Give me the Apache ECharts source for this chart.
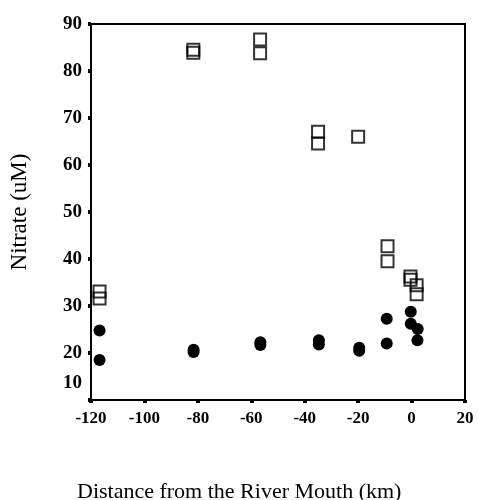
<!DOCTYPE html>
<html>
<head>
<meta charset="utf-8">
<script src="https://cdn.jsdelivr.net/npm/echarts@6/dist/echarts.min.js"></script>
<style>
  html, body { margin: 0; padding: 0; background: #fff; }
  #chart { width: 478px; height: 500px; }
</style>
</head>
<body>
<div id="chart"></div>
<script>
// Nitrate concentration versus distance from the river mouth.
// Open squares: high-nitrate samples; filled circles: low-nitrate samples.
const squareSamples = [
  [-116.8, 33.1], [-116.8, 31.6],
  [-81.7, 84.5], [-81.7, 83.9],
  [-56.7, 86.7], [-56.7, 83.8],
  [-35.0, 67.1], [-35.0, 64.6],
  [-20.0, 66.0],
  [-9.0, 42.7], [-9.0, 39.5],
  [-0.4, 36.3], [-0.4, 35.6],
  [1.9, 34.4], [1.9, 32.5]
];
const circleSamples = [
  [-116.8, 24.8], [-116.8, 18.5],
  [-81.6, 20.7], [-81.6, 20.2],
  [-56.6, 22.3], [-56.6, 21.7],
  [-34.7, 22.7], [-34.7, 21.8],
  [-19.6, 21.1], [-19.6, 20.5],
  [-9.3, 27.3], [-9.3, 22.0],
  [-0.3, 28.8], [-0.3, 26.2],
  [2.3, 25.1], [2.2, 22.7]
];
const xTicks = { min: -120, max: 20, step: 20 };
const yTicks = { min: 10, max: 90, step: 10 };
const xTitle = 'Distance from the River Mouth (km)';
const yTitle = 'Nitrate (uM)';

const serif = '"Liberation Serif", "DejaVu Serif", serif';
const chart = echarts.init(document.getElementById('chart'));

chart.setOption({
  animation: false,
  backgroundColor: '#fff',
  grid: {
    left: 91, right: 13, top: 24, bottom: 100,
    show: true, borderColor: '#000', borderWidth: 2, backgroundColor: 'transparent'
  },
  xAxis: {
    type: 'value',
    min: xTicks.min, max: xTicks.max, interval: xTicks.step,
    splitLine: { show: false },
    axisLine: { show: true, onZero: false, lineStyle: { color: '#000', width: 2 } },
    axisTick: { show: true, inside: false, length: 3, lineStyle: { color: '#000', width: 4 } },
    axisLabel: { color: '#000', fontFamily: serif, fontSize: 17, fontWeight: 'bold', margin: 10 }
  },
  yAxis: {
    type: 'value',
    min: yTicks.min, max: yTicks.max, interval: yTicks.step,
    name: yTitle,
    nameLocation: 'middle',
    nameGap: 60,
    nameTextStyle: { color: '#000', fontFamily: serif, fontSize: 23 },
    splitLine: { show: false },
    axisLine: { show: true, onZero: false, lineStyle: { color: '#000', width: 2 } },
    axisTick: { show: true, inside: false, length: 3, lineStyle: { color: '#000', width: 4 } },
    axisLabel: {
      color: '#000', fontFamily: serif, fontSize: 19, fontWeight: 'bold', margin: 9,
      formatter: v => (v === yTicks.min ? '{low|' + v + '}' : String(v)),
      rich: { low: { fontFamily: serif, fontSize: 19, fontWeight: 'bold', color: '#000', padding: [0, 0, 34, 0] } }
    }
  },
  graphic: [{
    type: 'text',
    left: 77, top: 481,
    style: { text: xTitle, fill: '#000', font: '22px ' + serif }
  }],
  series: [
    {
      type: 'scatter',
      data: squareSamples,
      symbol: 'rect',
      symbolSize: 12,
      itemStyle: { color: 'rgba(255,255,255,0)', borderColor: '#000', borderWidth: 2 }
    },
    {
      type: 'scatter',
      data: circleSamples,
      symbol: 'circle',
      symbolSize: 12,
      itemStyle: { color: '#000', opacity: 1 }
    }
  ]
});
</script>
</body>
</html>
